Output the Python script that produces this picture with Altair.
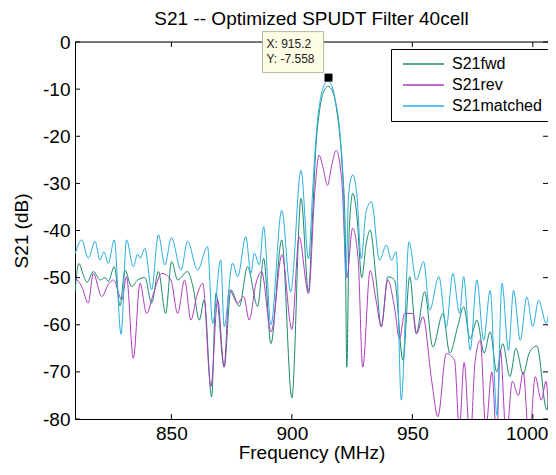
import altair as alt
import pandas as pd

# ---------------- data ----------------
series_names = ["S21fwd", "S21rev", "S21matched"]
series_colors = ["#1b8a6b", "#b03cc0", "#29aee0"]

fwd_freq = [810.0, 811.6, 813.5, 815.0, 817.6, 820.5, 822.5, 823.8, 826.3, 828.7, 830.7, 833.5,
            836.0, 839.0, 841.8, 844.6, 847.6, 850.1, 852.6, 856.7, 859.0, 861.6, 863.6, 866.7,
            868.5, 871.9, 874.7, 878.2, 881.6, 885.8, 888.3, 891.3, 895.8, 900.0, 903.8, 906.9,
            908.5, 910.0, 911.5, 913.0, 915.0, 917.0, 918.6, 920.7, 922.1, 922.8, 923.8, 925.3,
            927.0, 929.0, 930.8, 932.5, 935.0, 937.1, 939.9, 942.6, 946.1, 948.9, 951.6, 955.1,
            958.5, 962.7, 965.5, 969.0, 971.3, 974.0, 976.8, 979.8, 982.3, 985.0, 987.5, 990.5,
            993.0, 996.0, 998.5, 1001.7, 1005.8, 1008.0, 1010.0]
fwd_db = [-53.0, -47.0, -49.5, -51.0, -48.7, -50.5, -50.0, -50.8, -47.7, -56.0, -48.4, -51.9,
          -50.5, -50.0, -55.4, -48.7, -57.6, -46.6, -50.5, -48.7, -52.0, -59.0, -54.7, -75.3,
          -53.3, -69.0, -52.6, -56.1, -47.7, -56.1, -45.9, -64.0, -42.0, -75.5, -33.2, -53.0,
          -38.0, -22.0, -14.5, -10.8, -9.4, -10.6, -14.4, -25.0, -39.0, -69.0, -40.0, -32.1,
          -37.0, -50.0, -43.0, -39.9, -50.5, -60.4, -49.8, -50.5, -67.5, -49.8, -61.9, -53.0,
          -64.7, -57.6, -66.0, -60.0, -56.2, -63.0, -59.0, -66.0, -61.5, -70.0, -64.0, -71.0,
          -65.0, -70.5, -66.0, -64.5, -78.1, -68.0, -70.3]

rev_freq = [810.0, 812.8, 815.5, 817.6, 821.1, 823.8, 826.0, 829.4, 831.4, 834.2, 837.0, 839.7,
            842.5, 846.0, 849.8, 852.6, 855.5, 858.1, 860.5, 863.0, 866.4, 869.2, 871.9, 874.0,
            877.5, 880.0, 882.3, 885.1, 887.4, 891.4, 895.9, 900.0, 903.0, 906.9, 909.5, 911.3,
            913.0, 914.8, 916.6, 918.4, 920.7, 922.8, 925.2, 927.5, 929.4, 932.5, 935.0, 937.1,
            939.8, 942.5, 944.7, 946.8, 950.2, 951.8, 954.4, 958.0, 960.6, 964.1, 967.5, 969.5,
            971.5, 974.0, 976.0, 978.2, 980.5, 983.0, 985.0, 986.5, 989.0, 991.5, 994.0, 996.0,
            998.5, 1001.0, 1003.5, 1005.5, 1007.5, 1010.0]
rev_db = [-50.0, -51.9, -55.4, -49.1, -54.0, -51.5, -50.5, -54.7, -49.8, -67.1, -51.2, -57.6,
          -53.5, -49.1, -50.5, -57.6, -50.5, -59.0, -54.0, -51.2, -73.1, -54.7, -68.9, -52.6,
          -55.4, -54.0, -59.0, -51.2, -48.7, -61.5, -45.1, -61.0, -41.3, -53.4, -32.0, -24.0,
          -26.8, -30.4, -26.0, -23.0, -29.3, -50.0, -39.5, -46.0, -69.0, -48.5, -55.0, -60.4,
          -50.5, -56.0, -63.0, -57.6, -57.6, -61.9, -58.3, -71.8, -79.5, -66.1, -67.5, -82.0,
          -68.0, -85.0, -68.0, -63.3, -82.0, -70.0, -84.0, -65.4, -84.0, -72.0, -75.0, -70.0,
          -85.0, -71.0, -76.0, -72.0, -85.0, -73.0]

matched_freq = [810.0, 812.8, 815.5, 818.3, 820.4, 822.0, 823.8, 826.3, 829.1, 831.4, 834.2, 836.0,
                837.0, 839.0, 841.8, 844.6, 847.3, 850.0, 854.0, 856.7, 860.9, 865.0, 867.1, 870.5,
                871.9, 875.4, 877.5, 880.9, 883.0, 884.4, 886.5, 888.3, 891.3, 895.8, 899.5, 903.8,
                906.9, 908.8, 910.3, 911.7, 913.0, 914.8, 916.5, 918.2, 920.0, 921.3, 922.4, 923.6,
                925.3, 927.0, 928.8, 930.8, 933.0, 936.4, 939.2, 941.3, 943.3, 945.4, 948.6, 951.6,
                954.7, 957.2, 961.0, 964.1, 966.8, 969.6, 971.3, 974.0, 976.8, 979.6, 982.3, 985.1,
                987.2, 989.9, 992.0, 994.8, 997.5, 1000.0, 1002.4, 1005.6, 1007.9, 1010.0]
matched_db = [-45.0, -42.0, -45.9, -42.3, -46.3, -44.5, -47.0, -42.0, -62.0, -42.0, -47.7, -45.0,
              -45.9, -43.8, -52.6, -40.9, -47.3, -41.5, -48.4, -42.3, -48.4, -43.4, -59.7, -46.2,
              -60.4, -46.9, -49.8, -41.3, -49.1, -44.8, -47.3, -39.2, -60.0, -35.7, -53.0, -27.2,
              -46.0, -30.0, -18.5, -12.5, -9.6, -8.3, -9.2, -12.8, -19.5, -30.0, -50.0, -32.0,
              -28.2, -32.5, -46.0, -36.0, -33.9, -46.3, -43.1, -46.3, -44.5, -76.0, -42.4, -50.5,
              -46.6, -56.9, -49.8, -60.4, -49.1, -57.6, -49.8, -65.4, -50.5, -63.3, -52.7, -79.2,
              -51.2, -65.4, -52.7, -63.3, -54.1, -60.4, -54.8, -59.7, -54.1, -59.0]

x_ticks = [850, 900, 950, 1000]
y_ticks = [0, -10, -20, -30, -40, -50, -60, -70, -80]
x_domain = [810, 1006.3]
y_domain = [-80, 0]

tip_freq = 915.2
tip_db = -7.558

# ---------------- chart ----------------
W, H = 473, 377
FONT = "Liberation Sans"

frames = []
for name, fr, db in zip(series_names, [fwd_freq, rev_freq, matched_freq], [fwd_db, rev_db, matched_db]):
    frames.append(pd.DataFrame({"freq": fr, "db": db, "series": name}))
df = pd.concat(frames, ignore_index=True)

xscale = alt.Scale(domain=x_domain, nice=False, zero=False)
yscale = alt.Scale(domain=y_domain, nice=False, zero=False)

xaxis = alt.Axis(values=x_ticks, title="Frequency (MHz)", labelFontSize=19, titleFontSize=19,
                 titleFontWeight="normal", labelColor="black", titleColor="black", tickSize=0,
                 labelPadding=5, titlePadding=0, grid=False, domainColor="black",
                 labelFlush=16, labelFlushOffset=15,
                 labelOverlap=False, labelExpr="datum.value + ''", labelFont=FONT, titleFont=FONT)
yaxis = alt.Axis(values=y_ticks, title="S21 (dB)", labelFontSize=19, titleFontSize=19,
                 titleFontWeight="normal", labelColor="black", titleColor="black", tickSize=0,
                 labelPadding=5, titlePadding=11, grid=False, domainColor="black",
                 labelOverlap=False, labelExpr="datum.value + ''", labelFont=FONT, titleFont=FONT)

color = alt.Color(
    "series:N",
    scale=alt.Scale(domain=series_names, range=series_colors),
    legend=alt.Legend(title=None, orient="none", legendX=316, legendY=7, direction="vertical",
                      strokeColor="black", fillColor="white", padding=7, cornerRadius=0,
                      symbolType="M-0.6,0H7.6", symbolSize=100, symbolStrokeWidth=1.5,
                      labelOffset=38, labelFontSize=16, labelFont=FONT, labelColor="black",
                      rowPadding=5),
)

base = alt.Chart(df)
layers = []
for n in series_names:
    layers.append(
        base.transform_filter(alt.datum.series == n)
        .mark_line(clip=True, strokeWidth=1, interpolate="monotone")
        .encode(x=alt.X("freq:Q", scale=xscale, axis=xaxis),
                y=alt.Y("db:Q", scale=yscale, axis=yaxis),
                color=color)
    )

xt = pd.DataFrame({"v": x_ticks})
yt = pd.DataFrame({"v": y_ticks})
tick_len = 5
layers.append(alt.Chart(xt).mark_rule(color="black", strokeWidth=1).encode(
    x=alt.X("v:Q", scale=xscale, axis=xaxis), y=alt.value(0), y2=alt.value(tick_len)))
layers.append(alt.Chart(xt).mark_rule(color="black", strokeWidth=1).encode(
    x=alt.X("v:Q", scale=xscale, axis=xaxis), y=alt.value(H), y2=alt.value(H - tick_len)))
layers.append(alt.Chart(yt).mark_rule(color="black", strokeWidth=1).encode(
    y=alt.Y("v:Q", scale=yscale, axis=yaxis), x=alt.value(0), x2=alt.value(tick_len)))
layers.append(alt.Chart(yt).mark_rule(color="black", strokeWidth=1).encode(
    y=alt.Y("v:Q", scale=yscale, axis=yaxis), x=alt.value(W), x2=alt.value(W - tick_len)))
# top frame line
layers.append(alt.Chart(pd.DataFrame({"a": [0]})).mark_rule(color="black", strokeWidth=1).encode(
    x=alt.value(0), x2=alt.value(W), y=alt.value(0)))

# data tip
tip = pd.DataFrame({"freq": [tip_freq], "db": [tip_db],
                    "xl": [f"X: {tip_freq}"], "yl": [f"Y: {tip_db}"]})
tb = alt.Chart(tip)
layers.append(tb.mark_rect(fill="#fdfde6", stroke="#b8b8a0", strokeWidth=1,
                           xOffset=-66, x2Offset=-5, yOffset=-46, y2Offset=-5).encode(
    x=alt.X("freq:Q", scale=xscale, axis=xaxis), x2=alt.X2("freq"),
    y=alt.Y("db:Q", scale=yscale, axis=yaxis), y2=alt.Y2("db")))
layers.append(tb.mark_square(size=64, color="black", filled=True, opacity=1).encode(
    x=alt.X("freq:Q", scale=xscale, axis=xaxis), y=alt.Y("db:Q", scale=yscale, axis=yaxis)))
layers.append(tb.mark_text(align="left", baseline="middle", dx=-62, dy=-34, fontSize=12,
                           font=FONT, color="#222222").encode(
    x=alt.X("freq:Q", scale=xscale, axis=xaxis), y=alt.Y("db:Q", scale=yscale, axis=yaxis),
    text="xl:N"))
layers.append(tb.mark_text(align="left", baseline="middle", dx=-62, dy=-19, fontSize=12,
                           font=FONT, color="#222222").encode(
    x=alt.X("freq:Q", scale=xscale, axis=xaxis), y=alt.Y("db:Q", scale=yscale, axis=yaxis),
    text="yl:N"))

chart = alt.layer(*layers).properties(
    width=W, height=H,
    title=alt.TitleParams("S21 -- Optimized SPUDT Filter 40cell", fontSize=19, fontWeight="normal",
                          font=FONT, color="black", anchor="middle", offset=2, frame="group"),
    autosize=alt.AutoSizeParams(type="none"),
    padding={"left": 67, "top": 34, "right": 0, "bottom": 44},
).configure_view(stroke="transparent").configure(font=FONT)

chart.save("out.html", embed_options={"renderer": "svg", "actions": False})
